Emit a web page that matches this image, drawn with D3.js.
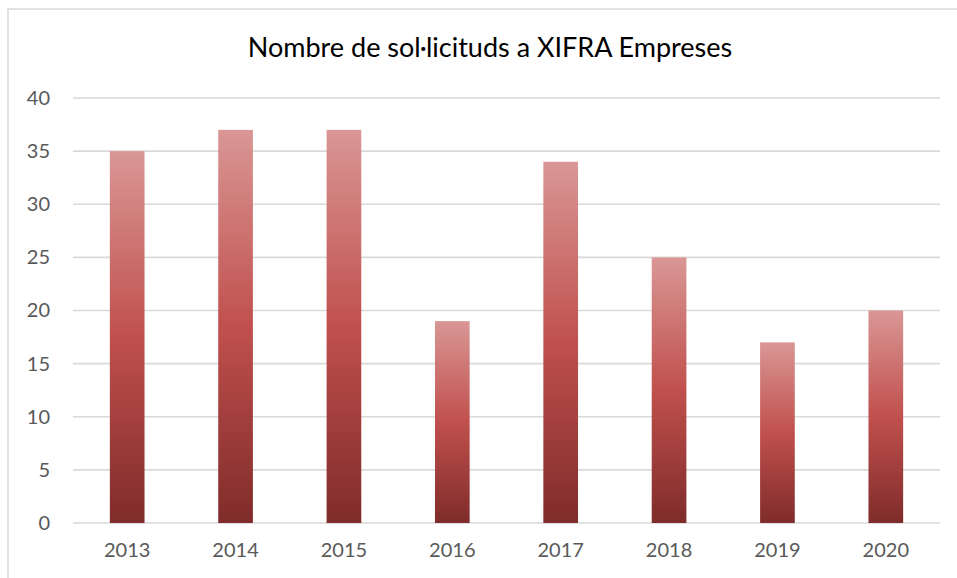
<!DOCTYPE html>
<html lang="ca">
<head>
<meta charset="utf-8">
<title>Nombre de sol·licituds a XIFRA Empreses</title>
<script src="https://cdn.jsdelivr.net/npm/d3@7"></script>
<style>
  body { margin: 0; background: #fff; }
  text { font-family: Lato, "Open Sans", sans-serif; }
</style>
</head>
<body>
<script>
// data
var years = ["2013", "2014", "2015", "2016", "2017", "2018", "2019", "2020"];
var requests = [35, 37, 37, 19, 34, 25, 17, 20];
var yTicks = [0, 5, 10, 15, 20, 25, 30, 35, 40];

var w = 957, h = 578;
var margin = {top: 98, right: 17, bottom: 55, left: 73};

var svg = d3.select("body").append("svg")
  .attr("width", w)
  .attr("height", h);

// outer frame
svg.append("rect")
  .attr("x", 8).attr("y", 9)
  .attr("width", w + 10).attr("height", h + 10)
  .attr("fill", "#fff")
  .attr("stroke", "#d9d9d9")
  .attr("stroke-width", 1.5);

var x = d3.scaleBand()
  .domain(years)
  .range([margin.left, w - margin.right])
  .paddingInner(0.68)
  .paddingOuter(0.34);

var y = d3.scaleLinear()
  .domain([0, 40])
  .range([h - margin.bottom, margin.top]);

// gradient for bars
var grad = svg.append("defs").append("linearGradient")
  .attr("id", "barGrad")
  .attr("x1", 0).attr("y1", 0).attr("x2", 0).attr("y2", 1);
grad.append("stop").attr("offset", "0%").attr("stop-color", "#d99795");
grad.append("stop").attr("offset", "50%").attr("stop-color", "#c0504d");
grad.append("stop").attr("offset", "100%").attr("stop-color", "#7f2c2a");

// gridlines
svg.append("g")
  .selectAll("line")
  .data(yTicks)
  .enter()
  .append("line")
  .attr("x1", margin.left)
  .attr("x2", w - margin.right)
  .attr("y1", function(d) { return y(d); })
  .attr("y2", function(d) { return y(d); })
  .attr("stroke", "#d9d9d9")
  .attr("stroke-width", 1.6);

// y axis labels
var yAxis = d3.axisLeft(y).tickValues(yTicks).tickSize(0).tickPadding(23);
svg.append("g")
  .attr("transform", "translate(" + margin.left + ",0)")
  .call(yAxis)
  .call(function(g) { g.select(".domain").remove(); })
  .selectAll("text")
  .attr("fill", "#595959")
  .style("font-size", "20px")
  .style("font-family", "Lato, sans-serif");

// x axis labels
var xAxis = d3.axisBottom(x).tickSize(0).tickPadding(20);
svg.append("g")
  .attr("transform", "translate(0," + (h - margin.bottom) + ")")
  .call(xAxis)
  .call(function(g) { g.select(".domain").remove(); })
  .selectAll("text")
  .attr("fill", "#595959")
  .style("font-size", "20px")
  .style("font-family", "Lato, sans-serif");

// bars
svg.append("g")
  .selectAll("rect")
  .data(requests)
  .enter()
  .append("rect")
  .attr("x", function(d, i) { return x(years[i]); })
  .attr("y", function(d) { return y(d); })
  .attr("width", x.bandwidth())
  .attr("height", function(d) { return y(0) - y(d); })
  .attr("fill", "url(#barGrad)");

// title
svg.append("text")
  .attr("x", 490)
  .attr("y", 57)
  .attr("text-anchor", "middle")
  .attr("fill", "#000")
  .style("font-size", "27px")
  .text("Nombre de sol·licituds a XIFRA Empreses");
</script>
</body>
</html>
